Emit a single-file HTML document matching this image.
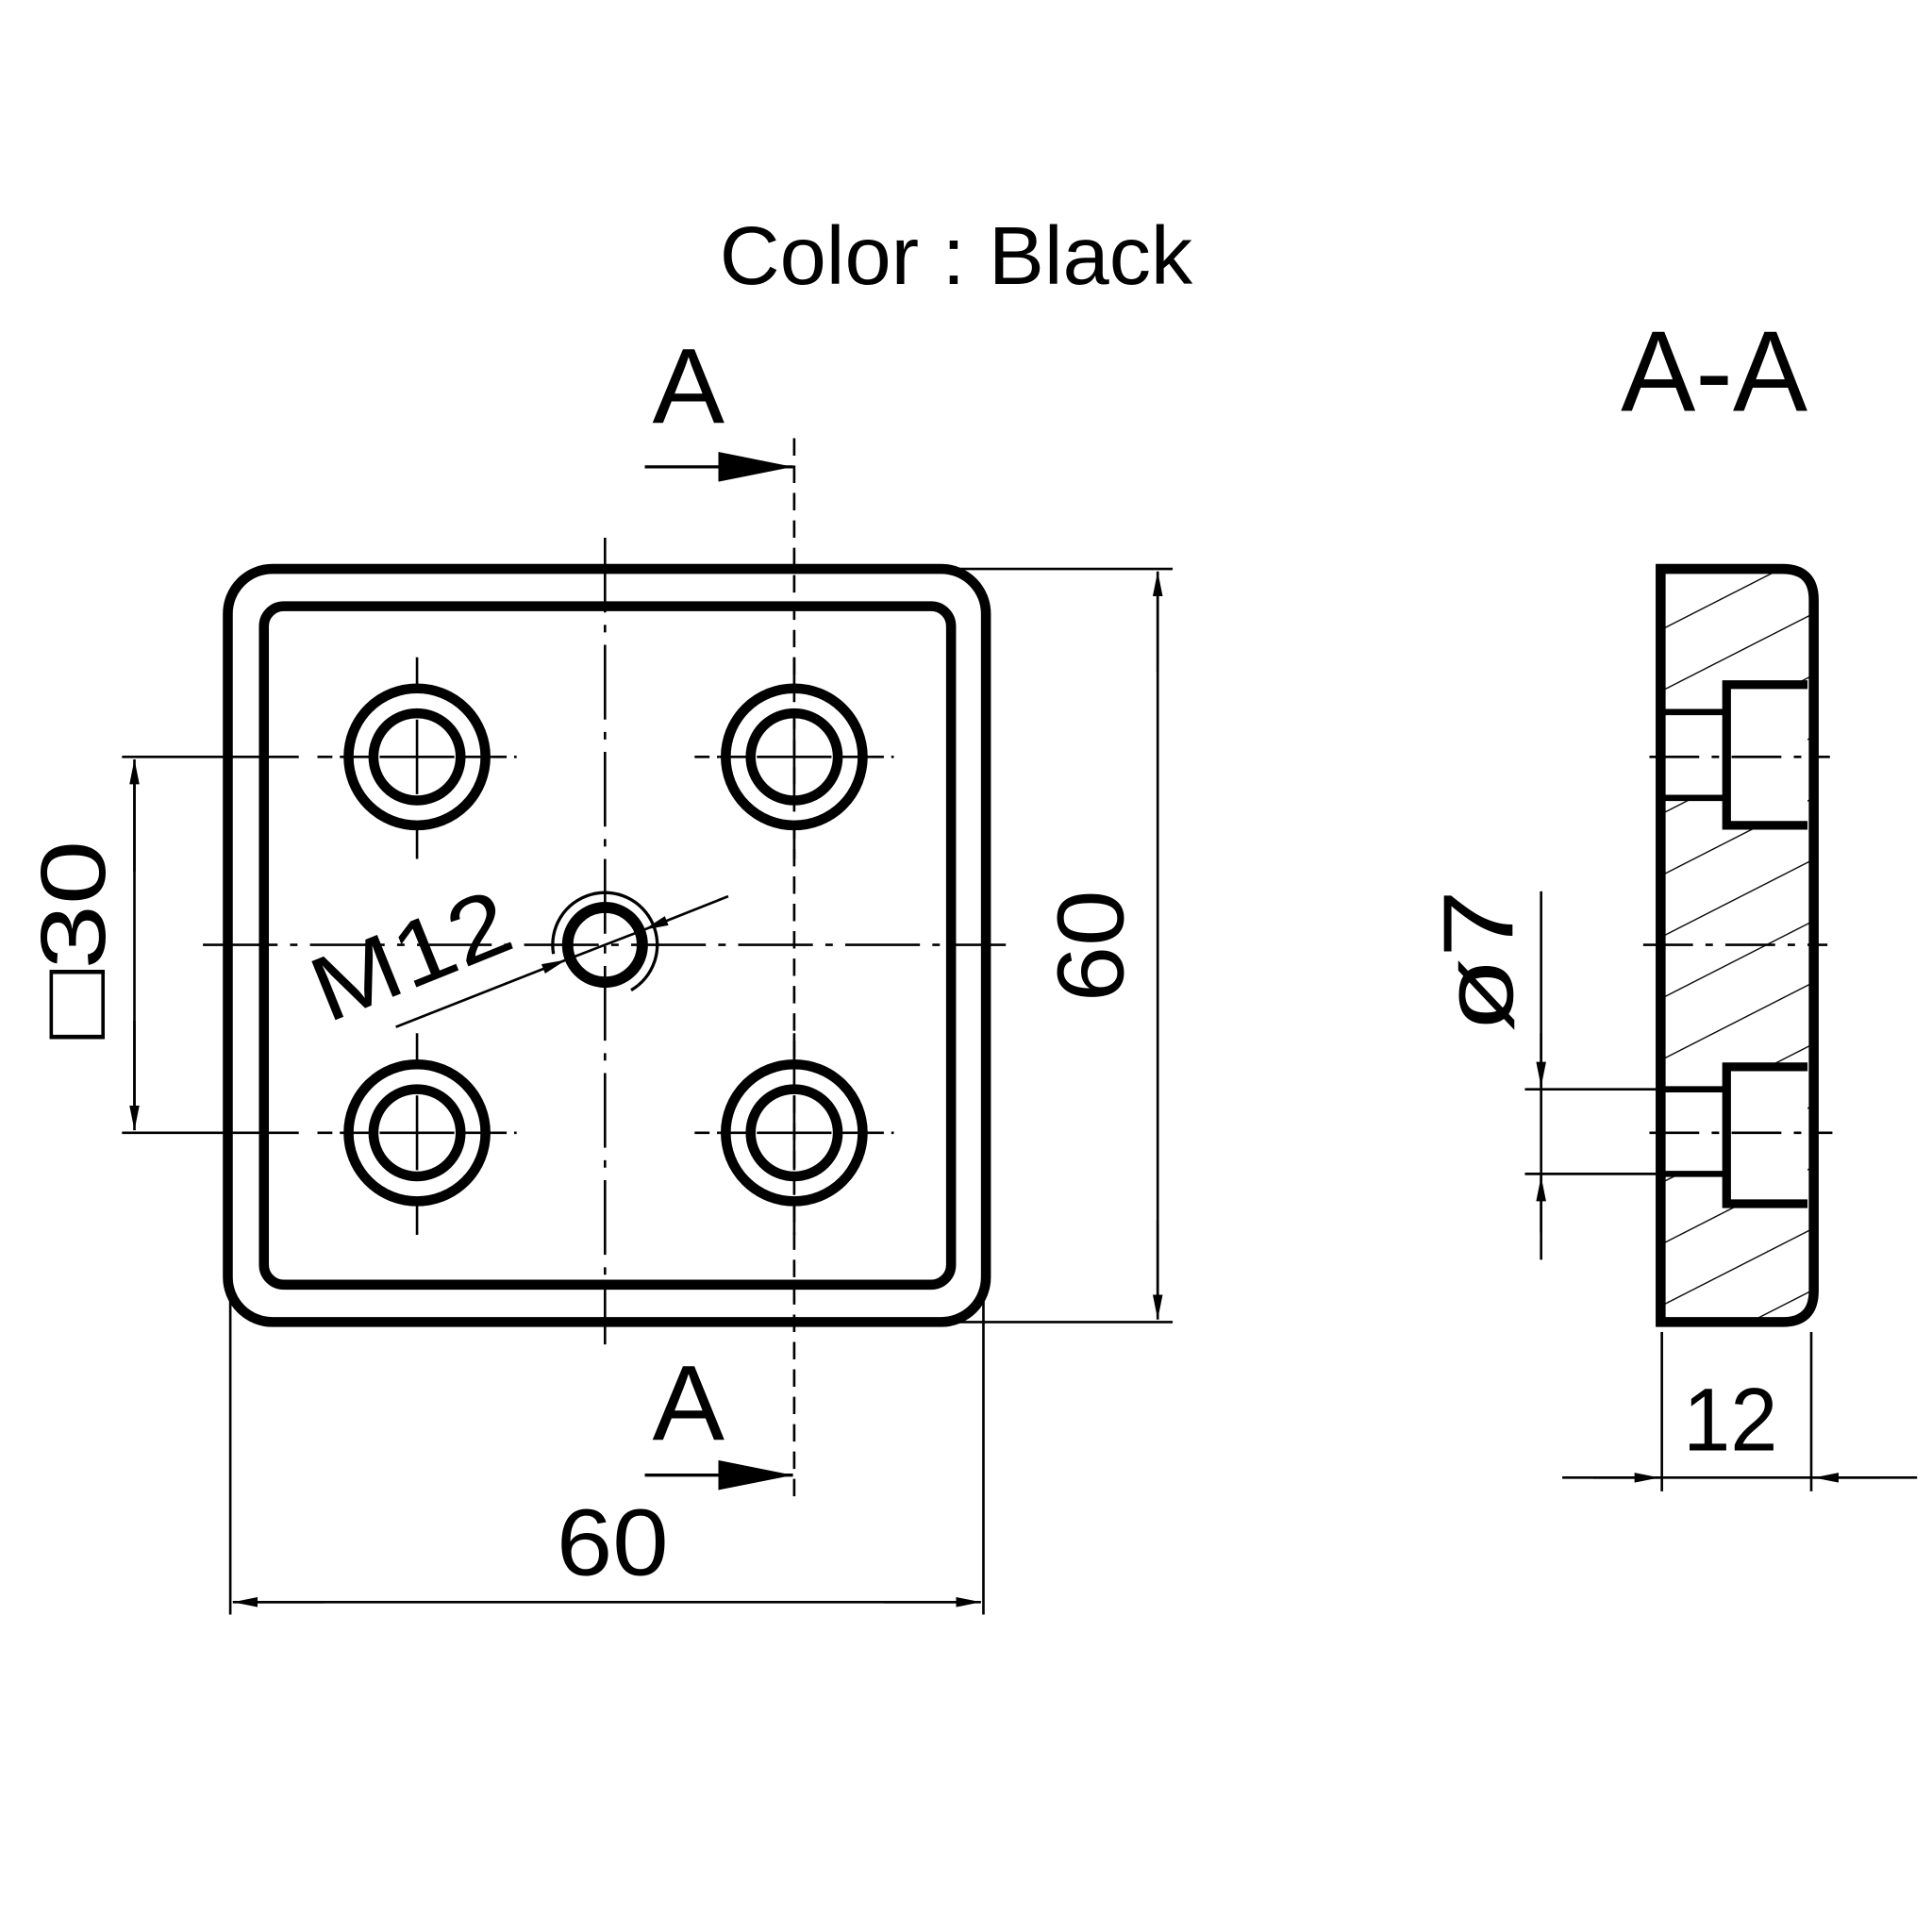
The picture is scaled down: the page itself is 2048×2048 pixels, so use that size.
<!DOCTYPE html>
<html><head><meta charset="utf-8"><style>
html,body{margin:0;padding:0;background:#fff}
svg{display:block}
text{font-family:"Liberation Sans","DejaVu Sans",sans-serif;fill:#000}
</style></head><body>
<svg width="2048" height="2048" viewBox="0 0 1552 1552" xmlns="http://www.w3.org/2000/svg">
<defs>
<pattern id="h" width="44" height="44" patternUnits="userSpaceOnUse" patternTransform="rotate(-27)">
<line x1="0" y1="0" x2="44" y2="0" stroke="#000" stroke-width="2"/>
</pattern>
<marker id="ar" viewBox="0 0 20 8" refX="20" refY="4" markerWidth="20" markerHeight="8" markerUnits="userSpaceOnUse" orient="auto-start-reverse"><path d="M0,0 L20,4 L0,8 Z" fill="#000"/></marker>
<marker id="ar2" viewBox="0 0 60 24" refX="60" refY="12" markerWidth="60" markerHeight="24" markerUnits="userSpaceOnUse" orient="auto"><path d="M0,0 L60,12 L0,24 Z" fill="#000"/></marker>
</defs>

<text x="578" y="228" font-size="66" textLength="380" lengthAdjust="spacingAndGlyphs">Color : Black</text>

<!-- front view -->
<rect x="183" y="457" width="609" height="605" rx="36" fill="none" stroke="#000" stroke-width="8"/>
<rect x="212" y="487" width="552" height="545" rx="16" fill="none" stroke="#000" stroke-width="8"/>

<g stroke="#000" stroke-width="2" fill="none">
<line x1="486" y1="432" x2="486" y2="1080" stroke-dasharray="60,10,6,10"/>
<line x1="163" y1="759" x2="808" y2="759" stroke-dasharray="60,10,6,10"/>
<line x1="638" y1="352" x2="638" y2="1205" stroke-dasharray="14,8"/>
</g>
<g fill="none" stroke="#000">
<g id="hole">
<circle cx="335" cy="608" r="55" stroke-width="8"/><circle cx="335" cy="608" r="35" stroke-width="8"/>
<g stroke-width="2">
<line x1="305" y1="608" x2="365" y2="608"/><line x1="335" y1="578" x2="335" y2="638"/>
<line x1="275" y1="608" x2="300" y2="608"/><line x1="370" y1="608" x2="395" y2="608"/>
<line x1="395" y1="608" x2="415" y2="608" stroke-dasharray="12,6"/>
<line x1="255" y1="608" x2="275" y2="608" stroke-dasharray="12,6"/>
<line x1="335" y1="528" x2="335" y2="552"/><line x1="335" y1="664" x2="335" y2="690"/>
</g>
</g>
<use href="#hole" x="303" y="0"/>
<use href="#hole" x="0" y="302"/>
<use href="#hole" x="303" y="302"/>
<circle cx="486" cy="759" r="30" stroke-width="9"/>
<path d="M444.6,766.3 A42,42 0 1 1 507,795.4" stroke-width="2.5"/>
</g>
<!-- M12 leader -->
<line x1="318" y1="825" x2="455" y2="771" stroke="#000" stroke-width="2" marker-end="url(#ar)"/>
<line x1="585" y1="720" x2="517" y2="747" stroke="#000" stroke-width="2" marker-end="url(#ar)"/>
<line x1="455" y1="771" x2="517" y2="747" stroke="#000" stroke-width="2"/>
<text x="0" y="0" font-size="74" textLength="165" lengthAdjust="spacingAndGlyphs" transform="translate(263,822) rotate(-22)">M12</text>

<!-- □30 dim -->
<g stroke="#000" stroke-width="2">
<line x1="98" y1="608" x2="240" y2="608"/><line x1="98" y1="910" x2="240" y2="910"/>
<line x1="108" y1="630" x2="108" y2="888"/>
</g>
<line x1="108" y1="700" x2="108" y2="610" stroke="#000" stroke-width="2" marker-end="url(#ar)"/>
<line x1="108" y1="820" x2="108" y2="908" stroke="#000" stroke-width="2" marker-end="url(#ar)"/>
<text font-size="74" textLength="160" lengthAdjust="spacingAndGlyphs" text-anchor="middle" transform="translate(84,755) rotate(-90)">□30</text>

<!-- right 60 -->
<g stroke="#000" stroke-width="2">
<line x1="770" y1="457" x2="942" y2="457"/><line x1="770" y1="1062" x2="942" y2="1062"/>
<line x1="930" y1="470" x2="930" y2="1050"/>
</g>
<line x1="930" y1="540" x2="930" y2="459" stroke="#000" stroke-width="2" marker-end="url(#ar)"/>
<line x1="930" y1="980" x2="930" y2="1060" stroke="#000" stroke-width="2" marker-end="url(#ar)"/>
<text font-size="76" textLength="90" lengthAdjust="spacingAndGlyphs" text-anchor="middle" transform="translate(902,760) rotate(-90)">60</text>

<!-- bottom 60 -->
<g stroke="#000" stroke-width="2">
<line x1="185" y1="1045" x2="185" y2="1297"/><line x1="790" y1="1045" x2="790" y2="1297"/>
<line x1="200" y1="1287" x2="775" y2="1287"/>
</g>
<line x1="260" y1="1287" x2="187" y2="1287" stroke="#000" stroke-width="2" marker-end="url(#ar)"/>
<line x1="710" y1="1287" x2="788" y2="1287" stroke="#000" stroke-width="2" marker-end="url(#ar)"/>
<text x="447" y="1265" font-size="76" textLength="90" lengthAdjust="spacingAndGlyphs">60</text>

<!-- section arrows -->
<line x1="518" y1="375" x2="637" y2="375" stroke="#000" stroke-width="2.5" marker-end="url(#ar2)"/>
<text x="524" y="340" font-size="86" textLength="58" lengthAdjust="spacingAndGlyphs">A</text>
<line x1="518" y1="1185" x2="637" y2="1185" stroke="#000" stroke-width="2.5" marker-end="url(#ar2)"/>
<text x="524" y="1157" font-size="86" textLength="58" lengthAdjust="spacingAndGlyphs">A</text>

<!-- Section A-A -->
<text x="1302" y="330" font-size="92" textLength="150" lengthAdjust="spacingAndGlyphs">A-A</text>
<path d="M1334,457 L1432,457 Q1457,457 1457,482 L1457,1037 Q1457,1062 1432,1062 L1334,1062 Z" fill="url(#h)" stroke="none"/>
<rect x="1387" y="550" width="65" height="113" fill="#fff"/>
<rect x="1387" y="857" width="65" height="110" fill="#fff"/>
<rect x="1334" y="572" width="53" height="69" fill="#fff"/>
<rect x="1334" y="875" width="53" height="68" fill="#fff"/>
<g fill="none" stroke="#000" stroke-width="7">
<path d="M1452,550 L1387,550 L1387,663 L1452,663"/>
<path d="M1452,857 L1387,857 L1387,967 L1452,967"/>
</g>
<g stroke="#000" stroke-width="5">
<line x1="1334" y1="572" x2="1387" y2="572"/><line x1="1334" y1="641" x2="1387" y2="641"/>
<line x1="1334" y1="875" x2="1387" y2="875"/><line x1="1334" y1="943" x2="1387" y2="943"/>
</g>
<path d="M1334,457 L1432,457 Q1457,457 1457,482 L1457,1037 Q1457,1062 1432,1062 L1334,1062 Z" fill="none" stroke="#000" stroke-width="8"/>
<g stroke="#000" stroke-width="2" stroke-dasharray="40,10,6,10">
<line x1="1325" y1="608" x2="1470" y2="608"/>
<line x1="1320" y1="759" x2="1468" y2="759"/>
<line x1="1325" y1="910" x2="1472" y2="910"/>
</g>

<!-- Ø7 dim -->
<g stroke="#000" stroke-width="2">
<line x1="1225" y1="875" x2="1330" y2="875"/><line x1="1225" y1="943" x2="1330" y2="943"/>
<line x1="1238" y1="716" x2="1238" y2="1012"/>
</g>
<line x1="1238" y1="830" x2="1238" y2="873" stroke="#000" stroke-width="2" marker-end="url(#ar)"/>
<line x1="1238" y1="990" x2="1238" y2="945" stroke="#000" stroke-width="2" marker-end="url(#ar)"/>
<text font-size="80" textLength="115" lengthAdjust="spacingAndGlyphs" text-anchor="middle" transform="translate(1215,772) rotate(-90)">ø7</text>

<!-- 12 dim -->
<g stroke="#000" stroke-width="2">
<line x1="1335" y1="1070" x2="1335" y2="1198"/><line x1="1455" y1="1070" x2="1455" y2="1198"/>
<line x1="1255" y1="1187" x2="1540" y2="1187"/>
</g>
<line x1="1280" y1="1187" x2="1333" y2="1187" stroke="#000" stroke-width="2" marker-end="url(#ar)"/>
<line x1="1510" y1="1187" x2="1457" y2="1187" stroke="#000" stroke-width="2" marker-end="url(#ar)"/>
<text x="1352" y="1165" font-size="72" textLength="76" lengthAdjust="spacingAndGlyphs">12</text>
</svg>
</body></html>
